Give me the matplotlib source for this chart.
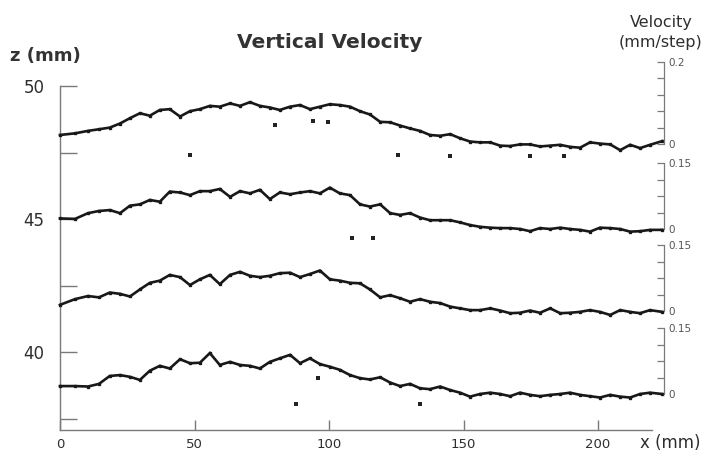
import matplotlib
matplotlib.use('Agg')
import matplotlib.pyplot as plt
import numpy as np

plt.rcParams['font.family'] = ['DejaVu Sans']

# sample positions along the channel (mm)
x_mm = [0, 5.6, 10.4, 14.5, 18.5, 22.3, 26, 29.7, 33.4, 37.1,
        40.8, 44.6, 48.3, 52, 55.7, 59.4, 63.2, 66.9, 70.6, 74.3,
        78, 81.7, 85.5, 89.2, 92.9, 96.6, 100.3, 104, 107.8,
        111.5, 115.2, 119, 122.7, 126.4, 130.1, 133.8, 137.5, 141.3, 145,
        148.7, 152.4, 156.1, 159.9, 163.6, 167.3, 171, 174.7, 178.4, 182.2,
        185.9, 189.6, 193.3, 197, 200.7, 204.5, 208.2, 211.9, 215.6, 219.3, 223.8]

# vertical velocity (mm/step), one profile per height, top to bottom
vel_1 = [0.022, 0.026, 0.032, 0.036, 0.040, 0.050, 0.063, 0.075, 0.069, 0.083,
         0.085, 0.067, 0.080, 0.085, 0.093, 0.091, 0.099, 0.093, 0.102, 0.093,
         0.089, 0.083, 0.091, 0.095, 0.085, 0.091, 0.097, 0.095, 0.091,
         0.080, 0.072, 0.054, 0.053, 0.045, 0.038, 0.032, 0.022, 0.020, 0.024,
         0.014, 0.006, 0.004, 0.004, -0.004, -0.005, -0.001, -0.001, -0.006, -0.004,
         -0.002, -0.007, -0.009, 0.004, 0.001, -0.001, -0.015, -0.002, -0.010, -0.002, 0.007]
vel_2 = [0.024, 0.023, 0.036, 0.041, 0.043, 0.036, 0.053, 0.056, 0.066, 0.062,
         0.085, 0.083, 0.077, 0.086, 0.086, 0.091, 0.073, 0.086, 0.081, 0.089,
         0.068, 0.083, 0.079, 0.083, 0.086, 0.081, 0.094, 0.081, 0.077,
         0.056, 0.051, 0.056, 0.036, 0.032, 0.036, 0.026, 0.020, 0.020, 0.020,
         0.015, 0.009, 0.005, 0.003, 0.002, 0.002, 0.000, -0.005, 0.002, 0.000,
         0.003, 0.000, -0.002, -0.006, 0.003, 0.002, 0.000, -0.006, -0.005, -0.002, -0.002]
vel_3 = [0.014, 0.027, 0.034, 0.031, 0.042, 0.039, 0.033, 0.049, 0.064, 0.069,
         0.082, 0.077, 0.059, 0.072, 0.082, 0.061, 0.082, 0.089, 0.080, 0.077,
         0.080, 0.086, 0.087, 0.077, 0.084, 0.092, 0.072, 0.069, 0.064,
         0.063, 0.049, 0.031, 0.036, 0.029, 0.021, 0.027, 0.021, 0.018, 0.010,
         0.006, 0.002, 0.002, 0.006, 0.001, -0.005, -0.004, 0.001, -0.004, 0.006,
         -0.005, -0.004, -0.002, 0.002, -0.002, -0.009, 0.002, -0.002, -0.005, 0.002, -0.002]
vel_4 = [0.018, 0.018, 0.017, 0.023, 0.041, 0.043, 0.039, 0.032, 0.053, 0.064,
         0.058, 0.079, 0.070, 0.071, 0.093, 0.066, 0.073, 0.066, 0.064, 0.058,
         0.073, 0.081, 0.089, 0.070, 0.081, 0.068, 0.062, 0.055, 0.043,
         0.036, 0.033, 0.038, 0.026, 0.018, 0.023, 0.013, 0.011, 0.017, 0.009,
         0.003, -0.006, 0.000, 0.003, 0.000, -0.005, 0.003, -0.002, -0.005, -0.002,
         0.000, 0.003, -0.002, -0.005, -0.008, -0.002, -0.006, -0.008, 0.000, 0.003, 0.000]

# stray points
stray_x_1 = [48.3, 80, 94, 99.6, 125.7, 145, 174.7, 187.4]
stray_v_1 = [-0.027, 0.046, 0.057, 0.054, -0.027, -0.029, -0.029, -0.029]
stray_x_2 = [108.5, 116.4]
stray_v_2 = [-0.021, -0.021]
stray_x_3 = []
stray_v_3 = []
stray_x_4 = [87.6, 96, 133.8]
stray_v_4 = [-0.023, 0.036, -0.023]

z_ticks = [40, 45, 50]
x_ticks = [0, 50, 100, 150, 200]
vel_tops = [0.2, 0.15, 0.15, 0.15]
vel_ntick = [6, 5, 5, 5]

W, H = 718, 454
fig = plt.figure(figsize=(W / 100, H / 100), dpi=100)
fig.patch.set_facecolor('white')

grey = '#7a7a7a'
txt = '#2e2e2e'

# main z axis: pixel box left 60..664, top 86..430
ax = fig.add_axes([60 / W, 1 - 430 / H, 604 / W, 344 / H])
ax.set_xlim(0, 224.5)
ax.set_ylim(37.07, 50)
ax.patch.set_alpha(0)
for s in ['top', 'right']:
    ax.spines[s].set_visible(False)
for s in ['left', 'bottom']:
    ax.spines[s].set_color(grey)
    ax.spines[s].set_linewidth(1.0)
ax.spines['bottom'].set_bounds(0, 220)
ax.set_yticks(z_ticks)
ax.set_yticks([37.5, 42.5, 47.5], minor=True)
ax.set_xticks(x_ticks)
ax.tick_params(axis='y', which='both', direction='in', length=12, color=grey, width=1.0)
ax.tick_params(axis='y', which='major', labelsize=12, labelcolor=txt, pad=11)
ax.tick_params(axis='x', direction='in', length=7, color=grey, width=1.0,
               labelsize=9.5, labelcolor=txt, pad=6)

# velocity bands: (top px, zero px)
band_px = [(62, 144), (163, 229), (245, 311), (328, 394)]
series = [vel_1, vel_2, vel_3, vel_4]
strays = [(stray_x_1, stray_v_1), (stray_x_2, stray_v_2),
          (stray_x_3, stray_v_3), (stray_x_4, stray_v_4)]

for (top, zero), v, (sx, sv), vtop, nt in zip(band_px, series, strays, vel_tops, vel_ntick):
    bx = fig.add_axes([60 / W, 1 - zero / H, 604 / W, (zero - top) / H])
    bx.set_xlim(0, 224.5)
    bx.set_ylim(0, vtop)
    bx.patch.set_alpha(0)
    for s in ['top', 'left', 'bottom']:
        bx.spines[s].set_visible(False)
    bx.spines['right'].set_color(grey)
    bx.spines['right'].set_linewidth(0.9)
    bx.set_xticks([])
    bx.yaxis.tick_right()
    bx.set_yticks(np.linspace(0, vtop, nt))
    bx.set_yticklabels(['0'] + [''] * (nt - 2) + ['%g' % vtop])
    bx.tick_params(axis='y', direction='in', length=5, color=grey, width=0.9,
                   labelsize=7.5, labelcolor='#555555', pad=3)
    bx.plot(x_mm, v, color='#181818', lw=1.9, marker='s', ms=1.9,
            clip_on=False, solid_joinstyle='miter')
    bx.scatter(sx, sv, s=6, color='#222222', marker='s', clip_on=False, lw=0)

fig.text(330 / W, 1 - 43 / H, 'Vertical Velocity', ha='center', va='center',
         fontsize=14.5, fontweight='bold', color='#333333')
fig.text(10 / W, 1 - 56 / H, 'z (mm)', ha='left', va='center',
         fontsize=13, fontweight='bold', color='#333333')
fig.text(661 / W, 1 - 22 / H, 'Velocity', ha='center', va='center',
         fontsize=11.5, color=txt)
fig.text(661 / W, 1 - 43 / H, '(mm/step)', ha='center', va='center',
         fontsize=11.5, color=txt)
fig.text(670 / W, 1 - 443 / H, 'x (mm)', ha='center', va='center',
         fontsize=12, color=txt)

fig.savefig('out.png', dpi=100, facecolor='white')
